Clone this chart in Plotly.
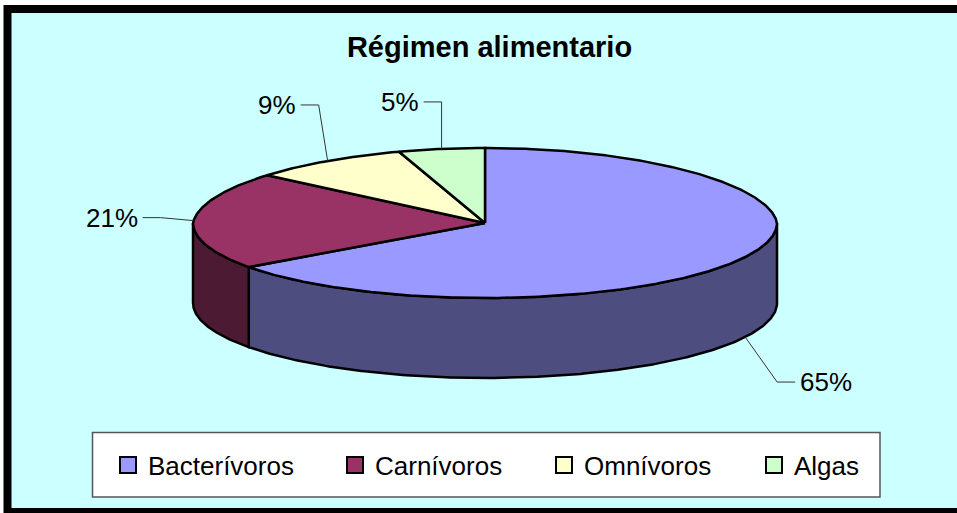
import numpy as np
import plotly.graph_objects as go

# ---------------- data ----------------
categories = ["Bacterívoros", "Carnívoros", "Omnívoros", "Algas"]
values = [65, 21, 9, 5]
title_text = "Régimen alimentario"

# ---------------- style ----------------
top_colors = ["#9999FF", "#993366", "#FFFFCC", "#CCFFCC"]
side_colors = ["#4D4D80", "#4D1A33", "#808066", "#668066"]
legend_widths = [182, 164, 165, 80]
# leader-line elbow offsets (px) and horizontal direction per label
label_dx = [32, -33, -9, 0]
label_dy = [45, -3, -56, -47]
label_dir = [1, -1, -1, -1]
LEADER_LEN = 18
FONT = "Liberation Sans, Arial, sans-serif"

W, H = 957, 513
CX, CY, RX, RY, DEPTH = 485, 223, 292, 75, 80
PERSP = 0.05


def ell(theta_deg, dz=0.0):
    t = np.radians(theta_deg)
    c, s = np.cos(t), np.sin(t)
    f = 1 - PERSP * np.maximum(c, 0)
    return CX + RX * s * f, CY - RY * c + dz


total = float(sum(values))
spans = [v / total * 360.0 for v in values]
starts = np.concatenate([[0.0], np.cumsum(spans)[:-1]])

fig = go.Figure()

# side walls (front half only: 90..270 deg clockwise from top)
for i, (a, sp) in enumerate(zip(starts, spans)):
    b = a + sp
    lo, hi = max(a, 90.0), min(b, 270.0)
    if hi <= lo:
        continue
    th = np.linspace(lo, hi, 200)
    xt, yt = ell(th)
    xb, yb = ell(th[::-1], DEPTH)
    xs = np.concatenate([xt, xb, xt[:1]])
    ys = np.concatenate([yt, yb, yt[:1]])
    fig.add_trace(go.Scatter(x=xs, y=ys, mode="lines", fill="toself",
                             fillcolor=side_colors[i],
                             line=dict(color="black", width=2.5),
                             hoverinfo="skip", showlegend=False))

# top faces
for i, (a, sp) in enumerate(zip(starts, spans)):
    th = np.linspace(a, a + sp, max(int(sp * 2), 4))
    xa, ya = ell(th)
    xs = np.concatenate([[CX], xa, [CX]])
    ys = np.concatenate([[CY], ya, [CY]])
    fig.add_trace(go.Scatter(x=xs, y=ys, mode="lines", fill="toself",
                             fillcolor=top_colors[i],
                             line=dict(color="black", width=2.5),
                             hoverinfo="skip", showlegend=False))

# labels with leader lines
annotations = []
for i, (a, sp) in enumerate(zip(starts, spans)):
    m = a + sp / 2
    front = 90 < m < 270
    ax, ay = ell(m, DEPTH if front else 0.0)
    ex, ey = ax + label_dx[i], ay + label_dy[i]
    hx = ex + label_dir[i] * LEADER_LEN
    fig.add_trace(go.Scatter(x=[ax, ex, hx], y=[ay, ey, ey], mode="lines",
                             line=dict(color="#333333", width=1),
                             hoverinfo="skip", showlegend=False))
    pct = f"{values[i] / total * 100:.0f}%"
    annotations.append(dict(x=hx + label_dir[i] * 3, y=ey, xref="x", yref="y",
                            text=pct, showarrow=False,
                            xanchor="left" if label_dir[i] > 0 else "right",
                            yanchor="middle",
                            font=dict(family=FONT, size=26, color="black")))

# legend entries
for i, name in enumerate(categories):
    fig.add_trace(go.Scatter(x=[None], y=[None], mode="markers", name=name,
                             marker=dict(symbol="square", size=16, color=top_colors[i],
                                         line=dict(color="black", width=2)),
                             legendwidth=legend_widths[i], showlegend=True))

shapes = [
    dict(type="rect", xref="x", yref="y", x0=7.5, y0=9, x1=1100, y1=512,
         fillcolor="#CCFFFF", line=dict(color="black", width=8), layer="below"),
    dict(type="rect", xref="x", yref="y", x0=92.5, y0=432.5, x1=880, y1=497,
         fillcolor="white", line=dict(color="#555555", width=1.5), layer="below"),
]

fig.update_layout(
    width=W, height=H,
    margin=dict(l=0, r=0, t=0, b=0),
    paper_bgcolor="white",
    plot_bgcolor="rgba(0,0,0,0)",
    xaxis=dict(range=[0, W], visible=False, fixedrange=True),
    yaxis=dict(range=[H, 0], visible=False, fixedrange=True),
    title=dict(text=f"<b>{title_text}</b>", x=489.5 / W, xanchor="center",
               y=1 - 47 / H, yanchor="middle", yref="container",
               font=dict(family=FONT, size=29, color="black")),
    legend=dict(orientation="h", x=108 / W, xanchor="left",
                y=1 - 465 / H, yanchor="middle",
                bgcolor="rgba(0,0,0,0)", borderwidth=0,
                font=dict(family=FONT, size=26, color="black")),
    shapes=shapes,
    annotations=annotations,
    showlegend=True,
)

fig.write_html("out.html",
               config={"displayModeBar": False, "staticPlot": False},
               post_script="document.body.style.margin='0';"
                           "document.body.style.overflow='hidden';")
